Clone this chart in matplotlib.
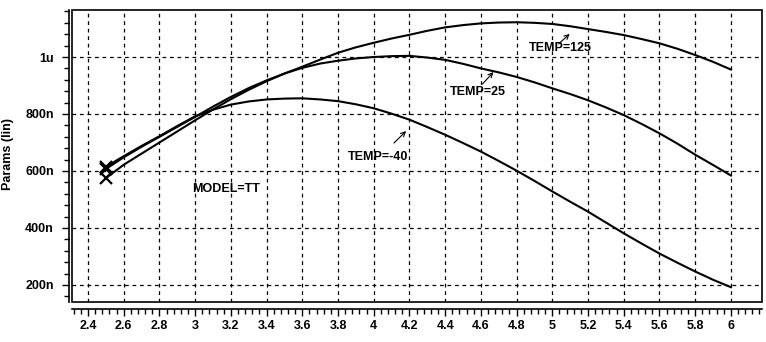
import matplotlib
matplotlib.use("Agg")
import matplotlib.pyplot as plt
from matplotlib.patches import Rectangle
from matplotlib.ticker import MultipleLocator

# Sweep voltage (V) and parameter values (in nano units) per temperature
vsweep = [2.5, 2.6, 2.7, 2.8, 2.9, 3.0, 3.1, 3.2, 3.3, 3.4, 3.5, 3.6, 3.7,
          3.8, 3.9, 4.0, 4.1, 4.2, 4.3, 4.4, 4.5, 4.6, 4.7, 4.8, 4.9, 5.0,
          5.1, 5.2, 5.3, 5.4, 5.5, 5.6, 5.7, 5.8, 5.9, 6.0]
temp_m40 = [615, 652, 688, 722, 758, 792, 815, 833, 844, 851, 854, 855, 851,
            845, 834, 820, 801, 780, 754, 727, 698, 668, 635, 601, 565, 528,
            492, 457, 419, 381, 345, 310, 278, 247, 218, 192]
temp_25 = [607, 648, 685, 720, 755, 790, 826, 860, 891, 918, 942, 962, 977,
           987, 995, 1000, 1003, 1004, 998, 990, 976, 960, 946, 930, 911, 890,
           870, 848, 823, 796, 765, 732, 696, 657, 621, 584]
temp_125 = [575, 622, 661, 700, 739, 778, 816, 852, 885, 915, 942, 966, 991,
            1015, 1034, 1050, 1065, 1078, 1092, 1104, 1112, 1118, 1121, 1122,
            1120, 1116, 1108, 1098, 1088, 1077, 1063, 1048, 1029, 1007, 983,
            956]

xticks = [2.4, 2.6, 2.8, 3.0, 3.2, 3.4, 3.6, 3.8, 4.0, 4.2, 4.4, 4.6, 4.8,
          5.0, 5.2, 5.4, 5.6, 5.8, 6.0]
xtick_labels = ["2.4", "2.6", "2.8", "3", "3.2", "3.4", "3.6", "3.8", "4",
                "4.2", "4.4", "4.6", "4.8", "5", "5.2", "5.4", "5.6", "5.8", "6"]
yticks = [200, 400, 600, 800, 1000]
ytick_labels = ["200n", "400n", "600n", "800n", "1u"]

FONT = ["Liberation Sans", "DejaVu Sans"]
plt.rcParams["font.family"] = FONT
plt.rcParams["font.weight"] = "bold"

fig = plt.figure(figsize=(7.66, 3.42), dpi=100)
ax = fig.add_axes([72 / 766, 1 - 302 / 342, (762 - 72) / 766, (302 - 10) / 342])

for ys in (temp_m40, temp_25, temp_125):
    ax.plot(vsweep, ys, color="black", lw=1.5, solid_joinstyle="round")
ax.plot([vsweep[0]] * 3, [temp_m40[0], temp_25[0], temp_125[0]],
        linestyle="none", marker="x", ms=8, mew=1.6, color="black")

ax.set_xlim(2.31, 6.174)
ax.set_ylim(140, 1165)

ax.set_xticks(xticks)
ax.set_xticklabels(xtick_labels)
ax.set_yticks(yticks)
ax.set_yticklabels(ytick_labels)
ax.xaxis.set_minor_locator(MultipleLocator(0.04))
ax.yaxis.set_minor_locator(MultipleLocator(40))

ax.grid(True, which="major", color="black", linestyle=(0, (3, 3)), lw=0.9)

# Rulers: offset axis lines with outward ticks
for side in ("top", "right"):
    ax.spines[side].set_visible(False)
ax.spines["bottom"].set_position(("outward", 5))
ax.spines["left"].set_position(("outward", 2))
ax.spines["bottom"].set_linewidth(1.2)
ax.spines["left"].set_linewidth(1.2)
ax.tick_params(axis="both", which="major", direction="out", length=5,
               width=1, labelsize=9, colors="black")
ax.tick_params(axis="both", which="minor", direction="out", length=3.5,
               width=1)
ax.tick_params(axis="x", pad=3)
ax.tick_params(axis="y", pad=6)
for lbl in ax.get_xticklabels() + ax.get_yticklabels():
    lbl.set_fontweight("bold")

# Plot frame
ax.add_patch(Rectangle((0, 0), 1, 1, transform=ax.transAxes, fill=False,
                       edgecolor="black", lw=1.2, clip_on=False, zorder=5))

fig.text(8 / 766, 1 - 154 / 342, "Params (lin)", rotation=90, ha="center",
         va="center", fontsize=9, fontweight="bold")

# Curve labels with pointer arrows
labels = [
    ("TEMP=125", (4.866, 1032), (5.035, 1046), (5.097, 1081)),
    ("TEMP=25", (4.428, 877), (4.608, 905), (4.670, 947)),
    ("TEMP=-40", (3.855, 649), (4.113, 698), (4.181, 740)),
]
for text, pos, tail, tip in labels:
    ax.text(pos[0], pos[1], text, ha="left", va="center", fontsize=9,
            fontweight="bold")
    ax.annotate("", xy=tip, xytext=tail,
                arrowprops=dict(arrowstyle="->", color="black", lw=0.8,
                                shrinkA=0, shrinkB=0, mutation_scale=8))
ax.text(2.984, 537, "MODEL=TT", ha="left", va="center", fontsize=9,
        fontweight="bold")

fig.savefig("out.png", dpi=100)
